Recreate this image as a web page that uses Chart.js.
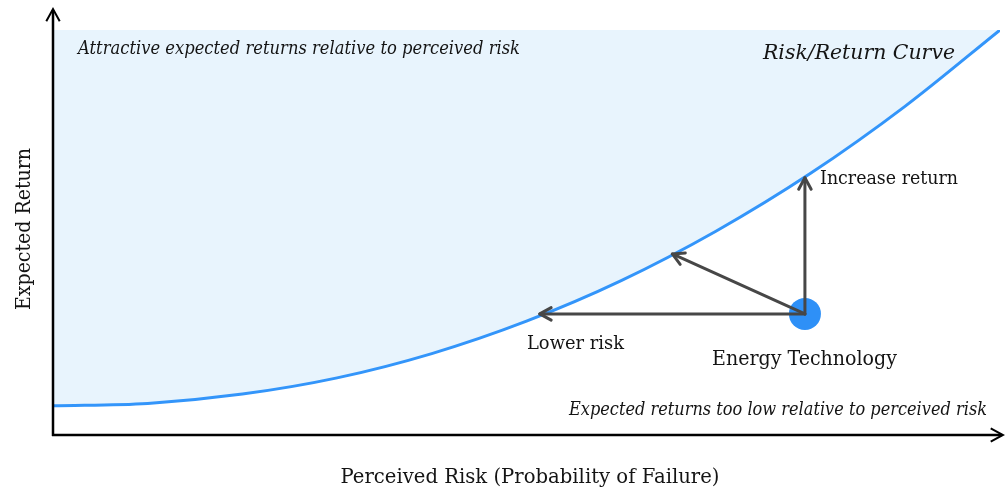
<!DOCTYPE html>
<html>
<head>
<meta charset="utf-8">
<script src="https://cdn.jsdelivr.net/npm/chart.js@4/dist/chart.umd.min.js"></script>
<style>
  body { margin: 0; background: #fff; }
  #wrap { width: 1005px; height: 489px; }
</style>
</head>
<body>
<div id="wrap"><canvas id="chart"></canvas></div>
<script>
// curve (x = perceived risk, y = expected return, 0-100)
const curveX = [0, 10, 20, 30, 40, 50, 60, 70, 80, 90, 100];
const curveY = [7.2, 7.8, 10.1, 14.1, 20.1, 28.1, 38.1, 50.3, 64.6, 81.2, 100];

// the technology and where its arrows go
const techPoint = { x: 79.4, y: 29.9 };
const arrowTargets = [
  { x: 51.4, y: 29.9 },  // lower risk
  { x: 65.4, y: 44.7 },  // both
  { x: 79.4, y: 63.5 }   // increase return
];

const serif = '"DejaVu Serif", "Liberation Serif", serif';

// text drawn scaled so it spans the same width as in the picture
function fitText(ctx, str, x, y, size, style, width, align) {
  ctx.save();
  ctx.font = style + ' ' + size + 'px ' + serif;
  const w = ctx.measureText(str).width;
  const k = width / w;
  ctx.translate(x, y);
  ctx.scale(k, 1);
  ctx.textBaseline = 'alphabetic';
  ctx.textAlign = align || 'left';
  ctx.fillStyle = '#141414';
  ctx.fillText(str, 0, 0);
  ctx.restore();
}

function arrowHead(ctx, x1, y1, x2, y2, len) {
  const a = Math.atan2(y2 - y1, x2 - x1);
  ctx.beginPath();
  ctx.moveTo(x2 - len * Math.cos(a - 0.5), y2 - len * Math.sin(a - 0.5));
  ctx.lineTo(x2, y2);
  ctx.lineTo(x2 - len * Math.cos(a + 0.5), y2 - len * Math.sin(a + 0.5));
  ctx.stroke();
}

const decorations = {
  id: 'decorations',
  afterDatasetDraw(chart, args) {
    if (args.index !== 0) return;
    const ctx = chart.ctx;
    const xs = chart.scales.x, ys = chart.scales.y;
    const px = xs.getPixelForValue(techPoint.x), py = ys.getPixelForValue(techPoint.y);
    ctx.save();
    ctx.strokeStyle = '#474747';
    ctx.lineWidth = 3;
    ctx.lineCap = 'round';
    ctx.lineJoin = 'round';
    arrowTargets.forEach(t => {
      const tx = xs.getPixelForValue(t.x), ty = ys.getPixelForValue(t.y);
      ctx.beginPath();
      ctx.moveTo(px, py);
      ctx.lineTo(tx, ty);
      ctx.stroke();
      arrowHead(ctx, px, py, tx, ty, 13);
    });
    ctx.restore();
  },
  afterDraw(chart) {
    const ctx = chart.ctx;
    const a = chart.chartArea;
    ctx.save();
    // axes with arrows
    ctx.strokeStyle = '#000';
    ctx.lineWidth = 2.5;
    ctx.beginPath();
    ctx.moveTo(a.left, a.bottom + 1);
    ctx.lineTo(a.left, 10);
    ctx.moveTo(a.left - 1, a.bottom);
    ctx.lineTo(chart.width - 3, a.bottom);
    ctx.stroke();
    ctx.lineWidth = 2;
    arrowHead(ctx, a.left, a.bottom, a.left, 9, 14);
    arrowHead(ctx, a.left, a.bottom, chart.width - 2, a.bottom, 14);

    // labels
    fitText(ctx, 'Attractive expected returns relative to perceived risk', 78, 54, 18, 'italic', 442);
    fitText(ctx, 'Risk/Return Curve', 763, 59, 21, 'italic', 192);
    fitText(ctx, 'Increase return', 820, 184, 19, 'normal', 138);
    fitText(ctx, 'Lower risk', 527, 349, 19, 'normal', 97);
    fitText(ctx, 'Energy Technology', 712, 365, 20, 'normal', 185);
    fitText(ctx, 'Expected returns too low relative to perceived risk', 569, 415, 18, 'italic', 418);
    fitText(ctx, 'Perceived Risk (Probability of Failure)', 530, 483, 21, 'normal', 379, 'center');

    ctx.save();
    ctx.translate(30, 229);
    ctx.rotate(-Math.PI / 2);
    fitText(ctx, 'Expected Return', 0, 0, 20, 'normal', 162, 'center');
    ctx.restore();
    ctx.restore();
  }
};

new Chart(document.getElementById('chart'), {
  type: 'line',
  data: {
    datasets: [
      {
        label: 'Risk/Return Curve',
        data: curveX.map((x, i) => ({ x: x, y: curveY[i] })),
        borderColor: '#3395fa',
        borderWidth: 3,
        backgroundColor: '#e8f4fd',
        fill: 'end',
        pointRadius: 0,
        cubicInterpolationMode: 'monotone'
      },
      {
        label: 'Energy Technology',
        data: [techPoint],
        showLine: false,
        pointRadius: 16,
        pointHoverRadius: 16,
        pointBackgroundColor: '#2e90f7',
        pointBorderWidth: 0
      }
    ]
  },
  options: {
    responsive: true,
    maintainAspectRatio: false,
    animation: false,
    layout: { autoPadding: false, padding: { left: 53, right: 5, top: 30, bottom: 54 } },
    plugins: { legend: { display: false }, tooltip: { enabled: false } },
    scales: {
      x: { type: 'linear', min: 0, max: 100, display: false },
      y: { min: 0, max: 100, display: false }
    }
  },
  plugins: [decorations]
});
</script>
</body>
</html>
